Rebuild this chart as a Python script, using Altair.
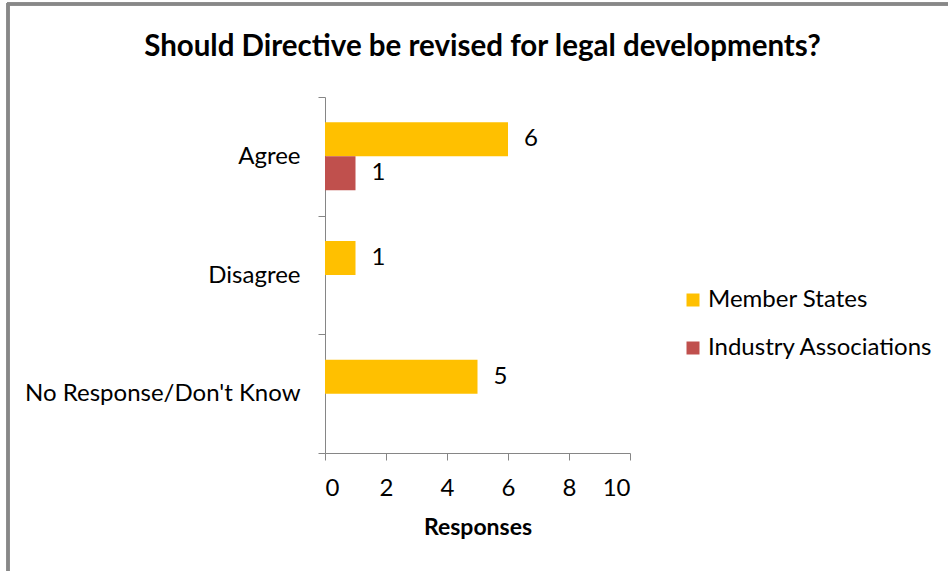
import altair as alt
import pandas as pd

categories = ["Agree", "Disagree", "No Response/Don't Know"]
series = ["Member States", "Industry Associations"]
member_states = [6, 1, 5]
industry_assoc = [1, None, None]
colors = ["#FFC000", "#C0504D"]
x_ticks = [0, 2, 4, 6, 8, 10]

rows = []
for c, v in zip(categories, member_states):
    if v is not None:
        rows.append({"category": c, "series": series[0], "value": v})
for c, v in zip(categories, industry_assoc):
    if v is not None:
        rows.append({"category": c, "series": series[1], "value": v})
df = pd.DataFrame(rows)

FONT = "Lato"
FS = 24

y_enc = alt.Y("category:N", sort=categories, title=None,
              scale=alt.Scale(domain=categories, paddingInner=0, paddingOuter=0),
              axis=alt.Axis(tickBand="extent", labelFontSize=FS, labelFont=FONT,
                            labelColor="#000000", labelPadding=18, tickSize=7,
                            domainColor="#868686", tickColor="#868686",
                            labelLimit=400))
yoff = alt.YOffset("series:N", sort=series,
                   scale=alt.Scale(domain=series, paddingInner=0, paddingOuter=0.745))
x_enc = alt.X("value:Q", title="Responses",
              scale=alt.Scale(domain=[0, 10], nice=False),
              axis=alt.Axis(values=x_ticks, grid=False, labelFontSize=FS, labelFont=FONT,
                            labelColor="#000000", tickSize=7, labelPadding=16,
                            domainColor="#868686", tickColor="#868686",
                            titleFont=FONT, titleFontSize=23, titleFontWeight="bold",
                            titleColor="#000000", titlePadding=16))

bars = alt.Chart(df).mark_bar().encode(
    y=y_enc, yOffset=yoff, x=x_enc,
    color=alt.Color("series:N", sort=series,
                    scale=alt.Scale(domain=series, range=colors),
                    legend=alt.Legend(title=None, orient="none", legendX=356, legendY=191,
                                      symbolType="square", symbolSize=169,
                                      symbolStrokeWidth=0, labelFont=FONT,
                                      labelFontSize=FS, labelColor="#000000",
                                      rowPadding=24, labelOffset=3, labelLimit=400)),
)

labels = alt.Chart(df).mark_text(align="left", baseline="middle", dx=16,
                                 font=FONT, fontSize=FS, color="#000000").encode(
    y=alt.Y("category:N", sort=categories), yOffset=alt.YOffset("series:N", sort=series),
    x="value:Q", text="value:Q")

frame_left = alt.Chart(df).mark_rule(color="#888888", strokeWidth=3).encode(
    x=alt.value(-317), y=alt.value(-94), y2=alt.value(480))
frame_top = alt.Chart(df).mark_rule(color="#888888", strokeWidth=3).encode(
    x=alt.value(-318), x2=alt.value(630), y=alt.value(-93))

chart = alt.layer(frame_left, frame_top, bars, labels).properties(
    width=305, height=356,
    autosize=alt.AutoSizeParams(type="none"),
    padding={"left": 325, "top": 97, "right": 318, "bottom": 118},
    title=alt.TitleParams("Should Directive be revised for legal developments?",
                          font=FONT, fontSize=29.5, fontWeight="bold", color="#000000",
                          anchor="middle", frame="group", dx=5, offset=-61),
).configure(background="white", view=alt.ViewConfig(strokeWidth=0))

chart.save("out.html", embed_options={"renderer": "svg", "actions": False})
